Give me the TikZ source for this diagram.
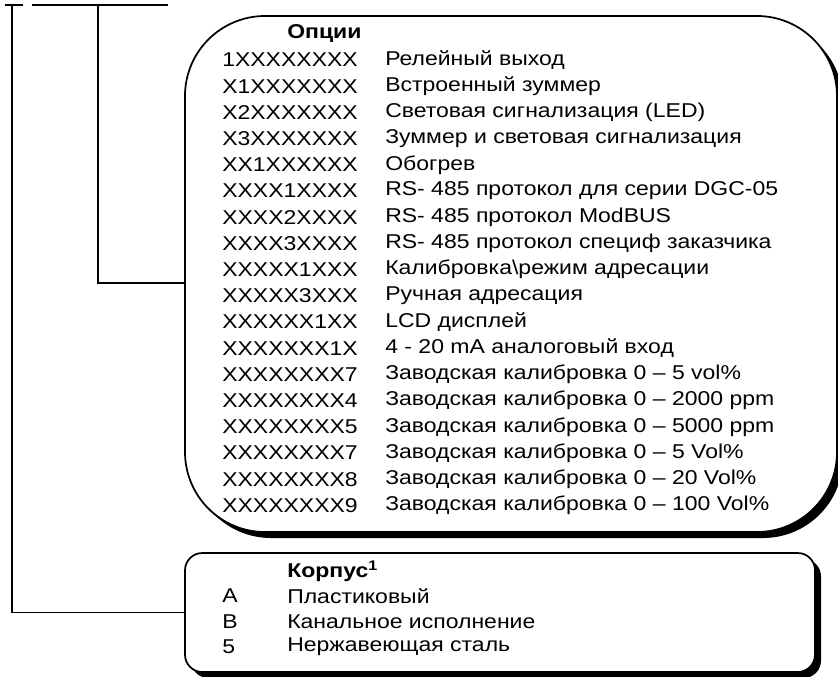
\documentclass[tikz,border=0pt]{standalone}
\usepackage{fontspec}
\setmainfont[FakeStretch=1.15]{Liberation Sans}
\usepackage{tikz}
\usetikzlibrary{positioning, fit}

\tikzset{
    boxline/.style={draw=black, line width=1.3pt, fill=white, inner sep=0pt},
    shadowfill/.style={fill=black},
    tree/.style={draw=black, line width=1.1pt},
    txt/.style={anchor=west, inner sep=0pt, font=\fontsize{15}{18}\selectfont}
}

\begin{document}
\begin{tikzpicture}[x=0.75pt, y=-0.75pt]
    \useasboundingbox (0,0) rectangle (838,676);
    \clip (0,0) rectangle (838,676);

    % box corners
    \coordinate (opt nw) at (185,16);
    \coordinate (opt se) at (837,532);
    \coordinate (case nw) at (185,553);
    \coordinate (case se) at (815,672);

    % shadows
    \fill[shadowfill, rounded corners=60pt]
        ([shift={(6,6)}]opt nw) rectangle ([shift={(6,6)}]opt se);
    \fill[shadowfill, rounded corners=13pt]
        ([shift={(6,6)}]case nw) rectangle ([shift={(6,6)}]case se);

    % boxes
    \node (opt) [boxline, rounded corners=60pt, fit=(opt nw)(opt se)] {};
    \node (case) [boxline, rounded corners=13pt, fit=(case nw)(case se)] {};

    % tree at the top
    \coordinate (t1l) at (5,5);
    \coordinate (t1r) at (23,5);
    \coordinate (t2l) at (32,5);
    \coordinate (t2r) at (168,5);
    \coordinate (j1) at (12,5);
    \coordinate (j2) at (98,5);
    \coordinate (optin) at (opt.west |- 0,283);

    \draw[tree] (t1l) -- (t1r);
    \draw[tree] (t2l) -- (t2r);
    \draw[tree] (j1) |- (case.west);
    \draw[tree] (j2) |- (optin);

    % options
    \node (opthead) [txt, font=\fontsize{15}{18}\selectfont\bfseries] at (287,34) {Опции};
    \foreach \code/\desc [count=\i] in {
        1XXXXXXXX/Релейный выход,
        X1XXXXXXX/Встроенный зуммер,
        X2XXXXXXX/Световая сигнализация (LED),
        X3XXXXXXX/Зуммер и световая сигнализация,
        XX1XXXXXX/Обогрев,
        XXXX1XXXX/RS- 485 протокол для серии DGC-05,
        XXXX2XXXX/RS- 485 протокол ModBUS,
        XXXX3XXXX/RS- 485 протокол специф заказчика,
        XXXXX1XXX/Калибровка\textbackslash режим адресации,
        XXXXX3XXX/Ручная адресация,
        XXXXXX1XX/LCD дисплей,
        XXXXXXX1X/4 - 20 mA аналоговый вход,
        XXXXXXXX7/Заводская калибровка 0 – 5 vol\%,
        XXXXXXXX4/Заводская калибровка 0 – 2000 ppm,
        XXXXXXXX5/Заводская калибровка 0 – 5000 ppm,
        XXXXXXXX7/Заводская калибровка 0 – 5 Vol\%,
        XXXXXXXX8/Заводская калибровка 0 – 20 Vol\%,
        XXXXXXXX9/Заводская калибровка 0 – 100 Vol\%}
    {
        \node (oc\i) [txt] at (222, 60+\i*26.2-26.2) {\code};
        \node (od\i) [txt] at (385, 60+\i*26.2-26.2) {\desc};
    }

    % housing
    \node (casehead) [txt, font=\fontsize{15}{18}\selectfont\bfseries] at (287,571) {Корпус\textsuperscript{1}};
    \foreach \code/\desc [count=\i] in {
        A/Пластиковый,
        B/Канальное исполнение,
        5/Нержавеющая сталь}
    {
        \node (cc\i) [txt] at (222, 596+\i*25.5-25.5) {\code};
        \node (cd\i) [txt] at (287, 596+\i*25.5-25.5) {\desc};
    }
\end{tikzpicture}
\end{document}
